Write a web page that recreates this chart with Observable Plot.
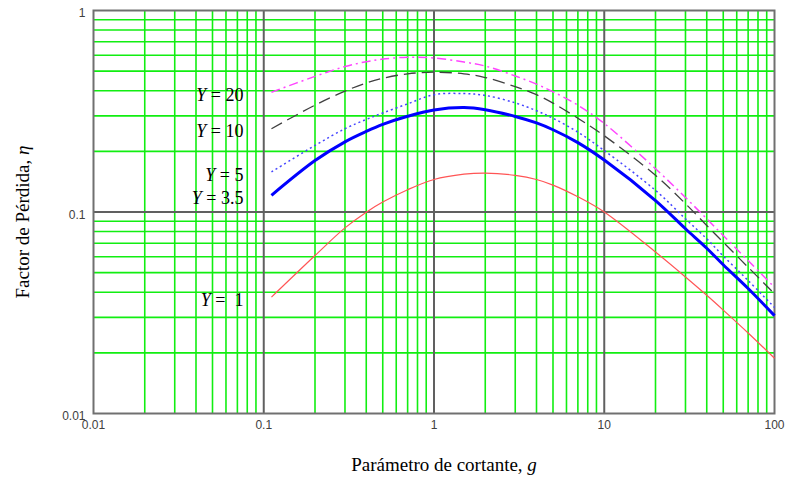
<!DOCTYPE html>
<html>
<head>
<meta charset="utf-8">
<script src="https://cdn.jsdelivr.net/npm/d3@7"></script>
<script src="https://cdn.jsdelivr.net/npm/@observablehq/plot@0.6"></script>
<style>
  html, body { margin: 0; padding: 0; background: #fff; }
  svg text { white-space: pre; }
</style>
</head>
<body>
<script>
// ---- data ----
const g = [0.111, 0.2, 0.3, 0.4, 0.5, 0.7, 1, 1.5, 2, 3, 4, 5, 7, 10, 20, 30, 40, 50, 70, 100];
const etaY1   = [0.0378, 0.0608, 0.0834, 0.0998, 0.112, 0.129, 0.145, 0.154, 0.156, 0.152, 0.145, 0.136, 0.119, 0.100, 0.0633, 0.0476, 0.0386, 0.0326, 0.0251, 0.0188];
const etaY3_5 = [0.121, 0.180, 0.223, 0.251, 0.272, 0.2985, 0.321, 0.330, 0.322, 0.298, 0.2767, 0.256, 0.221, 0.181, 0.114, 0.0826, 0.0661, 0.0547, 0.0417, 0.0306];
const etaY5   = [0.158, 0.214, 0.259, 0.288, 0.310, 0.344, 0.382, 0.387, 0.379, 0.348, 0.318, 0.292, 0.249, 0.2018, 0.128, 0.0925, 0.0736, 0.0605, 0.0457, 0.0336];
const etaY10  = [0.259, 0.339, 0.398, 0.437, 0.461, 0.485, 0.494, 0.485, 0.465, 0.419, 0.382, 0.347, 0.292, 0.239, 0.152, 0.110, 0.0857, 0.0708, 0.0532, 0.0393];
const etaY20  = [0.393, 0.471, 0.527, 0.557, 0.574, 0.586, 0.581, 0.555, 0.530, 0.473, 0.431, 0.395, 0.339, 0.275, 0.164, 0.118, 0.0925, 0.0764, 0.0574, 0.0423];

const xMajor = [0.01, 0.1, 1, 10, 100];
const yMajor = [0.01, 0.1, 1];
const xTickLabels = ["0.01", "0.1", "1", "10", "100"];
const yTickLabels = ["0.01", "0.1", "1"];
const minorSteps = [2, 3, 4, 5, 6, 7, 8, 9];

const xTitle = "Parámetro de cortante, ";
const xTitleVar = "g";
const yTitle = "Factor de Pérdida, ";
const yTitleVar = "η";

const seriesDefs = [
  {label: "= 20",  values: etaY20,  stroke: "#ff44ff", width: 1.5, dash: "9,4,2,4"},
  {label: "= 10",  values: etaY10,  stroke: "#404040", width: 1.3, dash: "12,6"},
  {label: "= 5",   values: etaY5,   stroke: "#4545ff", width: 1.5, dash: "2,3"},
  {label: "= 3.5", values: etaY3_5, stroke: "#0000ff", width: 3,   dash: null},
  {label: "=  1",  values: etaY1,   stroke: "#ff5555", width: 1.2, dash: null}
];

// ---- derived tables ----
const xMinor = xMajor.slice(0, -1).flatMap(d => minorSteps.map(k => k * d));
const yMinor = yMajor.slice(0, -1).flatMap(d => minorSteps.map(k => k * d));
const xInnerMajor = xMajor.slice(1, -1);
const yInnerMajor = yMajor.slice(1, -1);
const labelRows = seriesDefs.map(s => ({x: g[0], y: s.values[0], text: "Y " + s.label}));

const lineMarks = seriesDefs.map(s =>
  Plot.line(g.map((x, i) => ({x, y: s.values[i]})), {
    x: "x", y: "y", stroke: s.stroke, strokeWidth: s.width,
    strokeDasharray: s.dash ?? undefined, curve: "catmull-rom", strokeLinecap: "butt"
  })
);

const serif = "Liberation Serif, Times New Roman, serif";

const chart = Plot.plot({
  width: 787,
  height: 477,
  marginLeft: 93,
  marginRight: 13,
  marginTop: 10,
  marginBottom: 64,
  style: {background: "#fff", overflow: "visible"},
  x: {type: "log", domain: [0.01, 100], label: null},
  y: {type: "log", domain: [0.01, 1], label: null},
  marks: [
    Plot.ruleX(xMinor, {stroke: "#11ee11", strokeWidth: 1.6}),
    Plot.ruleY(yMinor, {stroke: "#11ee11", strokeWidth: 1.6}),
    Plot.ruleX(xInnerMajor, {stroke: "#606060", strokeWidth: 2}),
    Plot.ruleY(yInnerMajor, {stroke: "#606060", strokeWidth: 2}),
    Plot.frame({stroke: "#707070", strokeWidth: 2}),
    ...lineMarks,
    Plot.axisX(xMajor, {tickSize: 0, tickPadding: 7, tickFormat: d => xTickLabels[xMajor.indexOf(d)],
      fontSize: 12, fontFamily: "Liberation Sans, Arial, sans-serif", fill: "#404040", label: null}),
    Plot.axisY(yMajor, {tickSize: 0, tickPadding: 8, dy: 3, tickFormat: d => yTickLabels[yMajor.indexOf(d)],
      fontSize: 12, fontFamily: "Liberation Sans, Arial, sans-serif", fill: "#404040", label: null}),
    Plot.text(labelRows, {x: "x", y: "y", text: "text", textAnchor: "end", dx: -28, dy: 3,
      fontSize: 18, fontFamily: serif, fill: "#000"}),
    Plot.text([xTitle + xTitleVar], {text: d => d, frameAnchor: "bottom", textAnchor: "middle", lineAnchor: "top", dy: 44, dx: 10,
      fontSize: 19, fontFamily: serif, fill: "#000"}),
    Plot.text([yTitle + yTitleVar], {text: d => d, frameAnchor: "left", textAnchor: "middle", lineAnchor: "middle", rotate: -90, dx: -71, dy: 10,
      fontSize: 19, fontFamily: serif, fill: "#000"})
  ]
});

document.body.append(chart);

// italic variables in texts
const svg = d3.select(chart);
const labelTexts = new Set(labelRows.map(d => d.text));
svg.selectAll("text").filter(function() { return labelTexts.has(this.textContent); }).each(function() {
  const t = d3.select(this);
  const s = this.textContent;
  t.text(null);
  t.append("tspan").attr("font-style", "italic").text(s.slice(0, 1));
  t.append("tspan").text(s.slice(1));
});
function italicTail(base, v) {
  svg.selectAll("text").filter(function() { return this.textContent === base + v; }).each(function() {
    const t = d3.select(this);
    t.text(null);
    t.append("tspan").text(base);
    t.append("tspan").attr("font-style", "italic").text(v);
  });
}
italicTail(xTitle, xTitleVar);
italicTail(yTitle, yTitleVar);
</script>
</body>
</html>
